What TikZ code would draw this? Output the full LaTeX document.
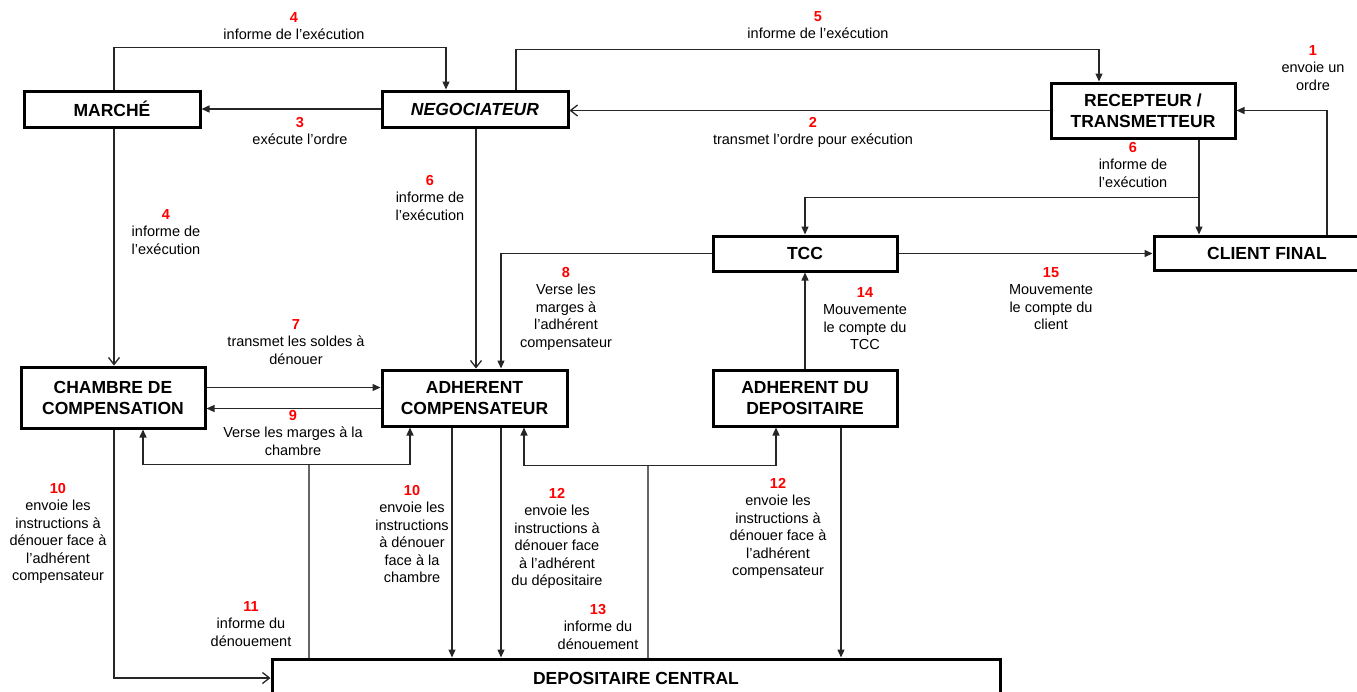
\documentclass[tikz,border=0pt]{standalone}
\usepackage{fontspec}
\setmainfont{Liberation Sans}
\usetikzlibrary{arrows.meta,calc}
\newcommand\lbl[4]{\node[lab] (#1) at (#2) {\textcolor{red}{\bfseries #3}\\#4};}
\begin{document}
\begin{tikzpicture}[x=1pt,y=-1pt,
 box/.style={draw, line width=3pt, inner sep=0pt, align=center, font=\fontsize{17.5}{21}\selectfont\bfseries},
 lab/.style={align=center, inner sep=0pt, anchor=north, font=\fontsize{14.5}{17.5}\selectfont},
 conn/.style={line width=1.3pt, draw=black!85},
 gconn/.style={line width=1.3pt, draw=black!60},
 fa/.style={conn, -{Triangle[length=8pt,width=7pt]}},
 oa/.style={conn, -{Straight Barb[length=7pt,width=11pt]}}]
\useasboundingbox (0,0) rectangle (1357,691);
% boxes
\node[box, minimum width=176pt, minimum height=36pt] (marche) at (112,109) {MARCHÉ};
\node[box, minimum width=186pt, minimum height=36pt] (nego) at (475,109) {\itshape NEGOCIATEUR};
\node[box, minimum width=184pt, minimum height=55pt] (recep) at (1143,110.5) {RECEPTEUR /\\TRANSMETTEUR};
\node[box, minimum width=226pt, minimum height=34pt] (client) at (1267,253) {CLIENT FINAL};
\node[box, minimum width=184pt, minimum height=35pt] (tcc) at (805,253.5) {TCC};
\node[box, minimum width=184pt, minimum height=61pt] (chambre) at (113,397.5) {CHAMBRE DE\\COMPENSATION};
\node[box, minimum width=185pt, minimum height=56pt] (adhc) at (474.5,398) {ADHERENT\\COMPENSATEUR};
\node[box, minimum width=184pt, minimum height=56pt] (add) at (805,398) {ADHERENT DU\\DEPOSITAIRE};
\node[box, minimum width=728pt, minimum height=38pt] (dep) at (636,678) {DEPOSITAIRE CENTRAL};
% connectors
\draw[fa] ([xshift=2]marche.north) -- ++(0,-42) -| ([xshift=-29]nego.north);
\draw[fa] ([xshift=41]nego.north) -- ++(0,-40) -| ([xshift=-44]recep.north);
\draw[fa] ([xshift=60]client.north) |- (recep.east);
\draw[oa] (recep.west) -- (recep.west -| nego.east);
\draw[fa] (nego.west) -- (nego.west -| marche.east);
\draw[fa] ([xshift=56]recep.south) -- ++(0,58) coordinate (j6) -- ([xshift=56]recep.south |- client.north);
\draw[fa] (j6) -| (tcc.north);
\draw[oa] ([xshift=1]nego.south) -- ([xshift=1]nego.south |- adhc.north);
\draw[fa] (tcc.west) -| ([xshift=26.5]adhc.north);
\draw[oa] ([xshift=2]marche.south) -- ([xshift=2]marche.south |- chambre.north);
\draw[fa] ([yshift=10]chambre.east) -- ([yshift=10]chambre.east -| adhc.west);
\draw[fa] ([yshift=-11]chambre.east -| adhc.west) -- ([yshift=-11]chambre.east);
\draw[gconn] ([xshift=-327]dep.north) -- ++(0,-193) coordinate (j11);
\draw[fa] (j11) -| ([xshift=30]chambre.south);
\draw[fa] (j11) -| ([xshift=-64.5]adhc.south);
\draw[oa] ([xshift=1]chambre.south) |- (dep.west);
\draw[fa] ([xshift=-22.5]adhc.south) -- ([xshift=-22.5]adhc.south |- dep.north);
\draw[fa] ([xshift=26.5]adhc.south) -- ([xshift=26.5]adhc.south |- dep.north);
\draw[gconn] ([xshift=12]dep.north) -- ++(0,-192) coordinate (j13);
\draw[fa] (j13) -| ([xshift=49.5]adhc.south);
\draw[fa] (j13) -| ([xshift=-29]add.south);
\draw[fa] ([xshift=36]add.south) -- ([xshift=36]add.south |- dep.north);
\draw[fa] (add.north) -- (tcc.south);
\draw[fa] (tcc.east) -- (tcc.east -| client.west);
% labels
\lbl{l4t}{294,12}{4}{informe de l’exécution}
\lbl{l5}{818,11}{5}{informe de l’exécution}
\lbl{l1}{1313,45}{1}{envoie un\\ordre}
\lbl{l3}{300,117}{3}{exécute l’ordre}
\lbl{l2}{813,117}{2}{transmet l’ordre pour exécution}
\lbl{l6r}{1133,142}{6}{informe de\\l’exécution}
\lbl{l6n}{430,175}{6}{informe de\\l’exécution}
\lbl{l4m}{166,209}{4}{informe de\\l’exécution}
\lbl{l8}{566,267}{8}{Verse les\\marges à\\l’adhérent\\compensateur}
\lbl{l15}{1051,267}{15}{Mouvemente\\le compte du\\client}
\lbl{l14}{865,287}{14}{Mouvemente\\le compte du\\TCC}
\lbl{l7}{296,319}{7}{transmet les soldes à\\dénouer}
\lbl{l9}{293,410}{9}{Verse les marges à la\\chambre}
\lbl{l10a}{58,483}{10}{envoie les\\instructions à\\dénouer face à\\l’adhérent\\compensateur}
\lbl{l10b}{412,485}{10}{envoie les\\instructions\\à dénouer\\face à la\\chambre}
\lbl{l12a}{557,488}{12}{envoie les\\instructions à\\dénouer face\\à l’adhérent\\du dépositaire}
\lbl{l12b}{778,478}{12}{envoie les\\instructions à\\dénouer face à\\l’adhérent\\compensateur}
\lbl{l11}{251,601}{11}{informe du\\dénouement}
\lbl{l13}{598,604}{13}{informe du\\dénouement}
\end{tikzpicture}
\end{document}
